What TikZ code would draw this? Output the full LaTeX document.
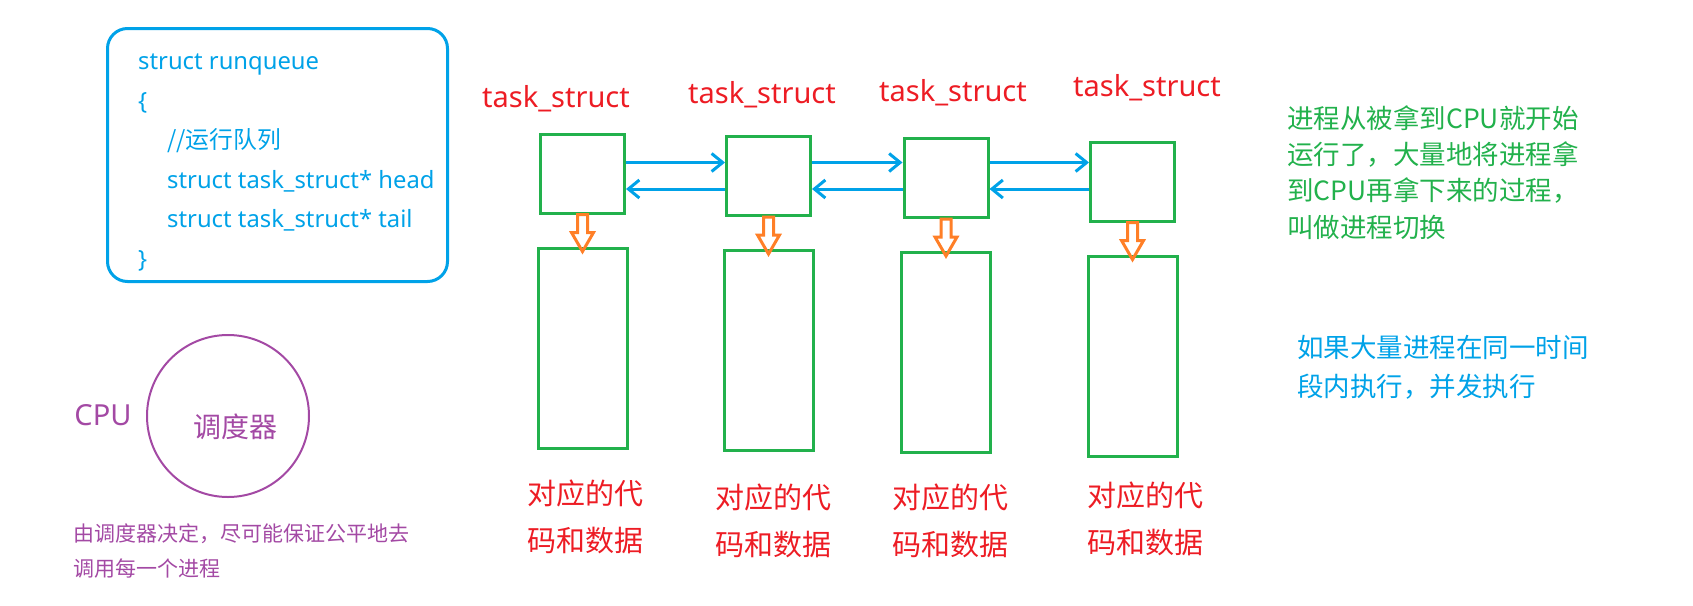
\documentclass[tikz,border=0pt]{standalone}
\usepackage{fontspec}
\setmainfont{Noto Sans}
\newfontfamily\cjk{Noto Sans CJK SC}
\usetikzlibrary{positioning,arrows.meta,calc}
\definecolor{pGreen}{HTML}{22B14C}
\definecolor{pBlue}{HTML}{00A2E8}
\definecolor{pRed}{HTML}{ED1C24}
\definecolor{pOrange}{HTML}{FF7F27}
\definecolor{pPurple}{HTML}{A349A4}

\begin{document}
\begin{tikzpicture}[x=1pt,y=-1pt,
    tbox/.style={draw=pGreen,line width=3pt,minimum width=84pt,minimum height=79pt,inner sep=0pt},
    dbox/.style={draw=pGreen,line width=3pt,minimum width=89pt,minimum height=200pt,inner sep=0pt},
    link/.style={draw=pBlue,line width=3pt,-{Straight Barb[length=11pt,width=18pt]}},
    fat/.style={draw=pOrange,line width=3pt,line join=miter},
    tname/.style={text=pRed,font=\fontsize{29}{35}\selectfont,inner sep=0pt},
    tdata/.style={text=pRed,font=\cjk\fontsize{29}{47}\selectfont,align=center,inner sep=0pt},
    code/.style={text=pBlue,font=\fontsize{23.8}{39.5}\selectfont,align=left,inner sep=0pt},
    note/.style={font=\cjk\fontsize{26.5}{36.3}\selectfont,align=left,inner sep=0pt}]
  \useasboundingbox (0,0) rectangle (1693,605);

  % run queue
  \node[draw=pBlue,line width=3pt,rounded corners=20pt,minimum width=340pt,minimum height=253pt] (rq) at (277.5,155) {};
  \node[code,anchor=north west] (rqtext) at (138,54)
    {struct runqueue\\\{\\\hspace*{29pt}{\cjk //运行队列}\\\hspace*{29pt}struct task\_struct* head\\\hspace*{29pt}struct task\_struct* tail\\\}};

  % CPU and scheduler
  \node[text=pPurple,font=\fontsize{29}{35}\selectfont,inner sep=0pt] (cpu) at (103,415) {CPU};
  \node[draw=pPurple,line width=2pt,circle,minimum size=162pt] (sched) at (228,416) {};
  \node[text=pPurple,font=\cjk\fontsize{28}{35}\selectfont,inner sep=0pt] (schedname) at (235,427) {调度器};
  \node[text=pPurple,font=\cjk\fontsize{21}{35}\selectfont,align=left,inner sep=0pt,anchor=west] (fair) at (73,550.5)
    {由调度器决定，尽可能保证公平地去\\调用每一个进程};

  % task_struct list
  \node[tbox] (t1) at (582.5,173.5) {};
  \node[tbox] (t2) at (768.5,176) {};
  \node[tbox] (t3) at (946,178) {};
  \node[tbox] (t4) at (1132.5,181.5) {};
  \foreach \i in {1,...,4}
    \node[dbox,below=32pt of t\i] (d\i) {};

  \node[tname] (n1) at (556,99) {task\_struct};
  \node[tname] (n2) at (762,95) {task\_struct};
  \node[tname] (n3) at (953,93) {task\_struct};
  \node[tname] (n4) at (1147,88) {task\_struct};

  \node[tdata] (c1) at (585,516.5) {对应的代\\码和数据};
  \node[tdata] (c2) at (773,521) {对应的代\\码和数据};
  \node[tdata] (c3) at (950,521) {对应的代\\码和数据};
  \node[tdata] (c4) at (1145,518.5) {对应的代\\码和数据};

  % links between the task_structs
  \coordinate (upper) at (0,162.5);
  \coordinate (lower) at (0,189);
  \foreach \a/\b in {1/2,2/3,3/4}{
    \draw[link] (t\a.east |- upper) -- (t\b.west |- upper);
    \draw[link] (t\b.west |- lower) -- (t\a.east |- lower);
  }

  % hollow arrows down to code and data
  \foreach \i in {1,...,4}
    \draw[fat] ($(t\i.south)+(-5,0)$) -- ++(0,18) -- ++(-6,0) -- ($(d\i.north)+(0,5)$)
      -- ($(t\i.south)+(11,18)$) -- ++(-6,0) -- ++(0,-18) -- cycle;

  % notes on the right
  \node[note,text=pGreen,anchor=west] (switch) at (1287,172.5)
    {进程从被拿到CPU就开始\\运行了，大量地将进程拿\\到CPU再拿下来的过程，\\叫做进程切换};
  \node[note,text=pBlue,font=\cjk\fontsize{26.5}{39}\selectfont,anchor=west] (concur) at (1297,367.5)
    {如果大量进程在同一时间\\段内执行，并发执行};
\end{tikzpicture}
\end{document}
